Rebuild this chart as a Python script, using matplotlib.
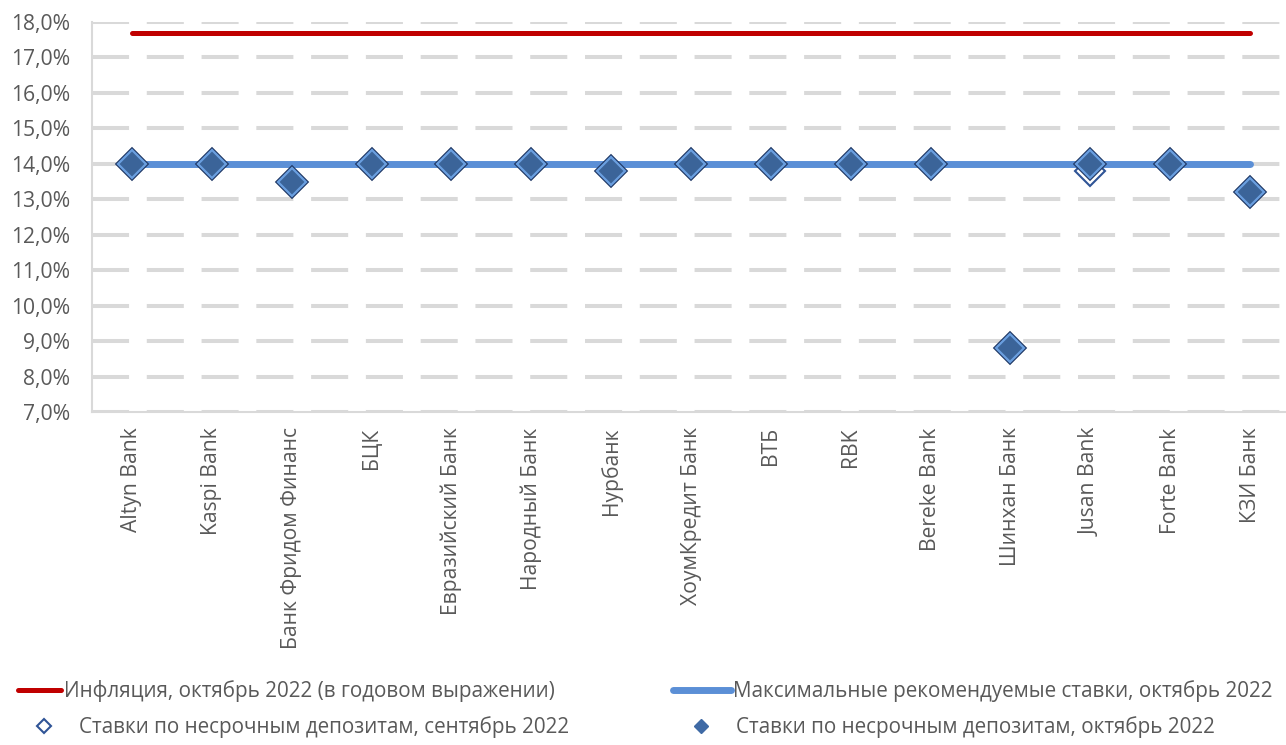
import matplotlib
matplotlib.use("Agg")
import matplotlib.pyplot as plt
from matplotlib.lines import Line2D
from matplotlib.ticker import FuncFormatter, MultipleLocator

plt.rcParams['font.family'] = ['Open Sans', 'DejaVu Sans']

# Data
banks = ['Altyn Bank', 'Kaspi Bank', 'Банк Фридом Финанс', 'БЦК', 'Евразийский Банк',
         'Народный Банк', 'Нурбанк', 'ХоумКредит Банк', 'ВТБ', 'RBK', 'Bereke Bank',
         'Шинхан Банк', 'Jusan Bank', 'Forte Bank', 'КЗИ Банк']
rates_oct = [14.0, 14.0, 13.5, 14.0, 14.0, 14.0, 13.8, 14.0, 14.0, 14.0, 14.0, 8.8, 14.0, 14.0, 13.2]
rates_sep = [14.0, 14.0, 13.5, 14.0, 14.0, 14.0, 13.8, 14.0, 14.0, 14.0, 14.0, 8.8, 13.8, 14.0, 13.2]
inflation = [17.7] * len(banks)
max_rate = [14.0] * len(banks)

label_infl = 'Инфляция, октябрь 2022 (в годовом выражении)'
label_max = 'Максимальные рекомендуемые ставки, октябрь 2022'
label_sep = 'Ставки по несрочным депозитам, сентябрь 2022'
label_oct = 'Ставки по несрочным депозитам, октябрь 2022'

text_col = '#595959'
red = '#c00000'
blue = '#5b8fd6'
navy = '#1f3864'
fill = '#3b6499'
light = '#6a9fe0'

W, H = 1286, 745
fig = plt.figure(figsize=(W / 100, H / 100), dpi=100)
ax = fig.add_axes([92 / W, 1 - 412 / H, 1198 / W, 390 / H])

x = list(range(len(banks)))

ax.plot(x, inflation, color=red, lw=3.6, solid_capstyle='round', zorder=3)
ax.plot(x, max_rate, color=blue, lw=5.0, solid_capstyle='round', zorder=3)

# september (hollow) below october
ax.plot(x, rates_sep, ls='none', marker='D', markersize=15.5, markerfacecolor='white',
        markeredgecolor='#2f5496', markeredgewidth=1.5, zorder=4)
# october: double-edged filled diamonds
ax.plot(x, rates_oct, ls='none', marker='D', markersize=16.5, markerfacecolor=navy,
        markeredgecolor=navy, markeredgewidth=1.2, zorder=5)
ax.plot(x, rates_oct, ls='none', marker='D', markersize=14.5, markerfacecolor=fill,
        markeredgecolor=light, markeredgewidth=1.6, zorder=6)

ax.set_xlim(-0.5, len(banks) - 0.5)
ax.set_ylim(7, 18)
ax.yaxis.set_major_locator(MultipleLocator(1))
ax.yaxis.set_major_formatter(FuncFormatter(lambda v, p: f'{v:.1f}%'.replace('.', ',')))
ax.set_xticks(x)
ax.set_xticklabels(banks, rotation=90, va='top', ha='center')

ax.grid(axis='y', color='#d9d9d9', lw=2.9, ls=(0, (9.2, 4.4)))
ax.set_axisbelow(True)
for s in ['top', 'right']:
    ax.spines[s].set_visible(False)
for s in ['left', 'bottom']:
    ax.spines[s].set_color('#d9d9d9')
    ax.spines[s].set_linewidth(1.5)
ax.tick_params(axis='y', length=0, pad=16, labelsize=15.2, labelcolor=text_col)
ax.tick_params(axis='x', length=0, pad=11, labelsize=15.2, labelcolor=text_col)

# Legend, four single entries placed like the original
leg_kw = dict(frameon=False, borderpad=0, borderaxespad=0, fontsize=14.9,
              labelcolor=text_col, loc='center left')
h1 = Line2D([], [], color=red, lw=3.6, solid_capstyle='round')
h2 = Line2D([], [], color=blue, lw=5.0, solid_capstyle='round')
h3 = Line2D([], [], ls='none', marker='D', markersize=7, markerfacecolor='white',
            markeredgecolor='#2f5496', markeredgewidth=1.5)
h4 = Line2D([], [], ls='none', marker='D', markersize=7, markerfacecolor='#3f6aa5',
            markeredgecolor='#3f6aa5')
y1 = 1 - 691 / H
y2 = 1 - 727 / H
fig.legend(handles=[h1], labels=[label_infl], bbox_to_anchor=(18 / W, y1),
           handlelength=2.1, handletextpad=0.1, **leg_kw)
fig.legend(handles=[h2], labels=[label_max], bbox_to_anchor=(673 / W, y1),
           handlelength=2.8, handletextpad=0.1, **leg_kw)
fig.legend(handles=[h3], labels=[label_sep], bbox_to_anchor=(28 / W, y2),
           handlelength=1.5, handletextpad=0.97, **leg_kw)
fig.legend(handles=[h4], labels=[label_oct], bbox_to_anchor=(685 / W, y2),
           handlelength=1.5, handletextpad=0.97, **leg_kw)

fig.savefig('out.png', dpi=100)
